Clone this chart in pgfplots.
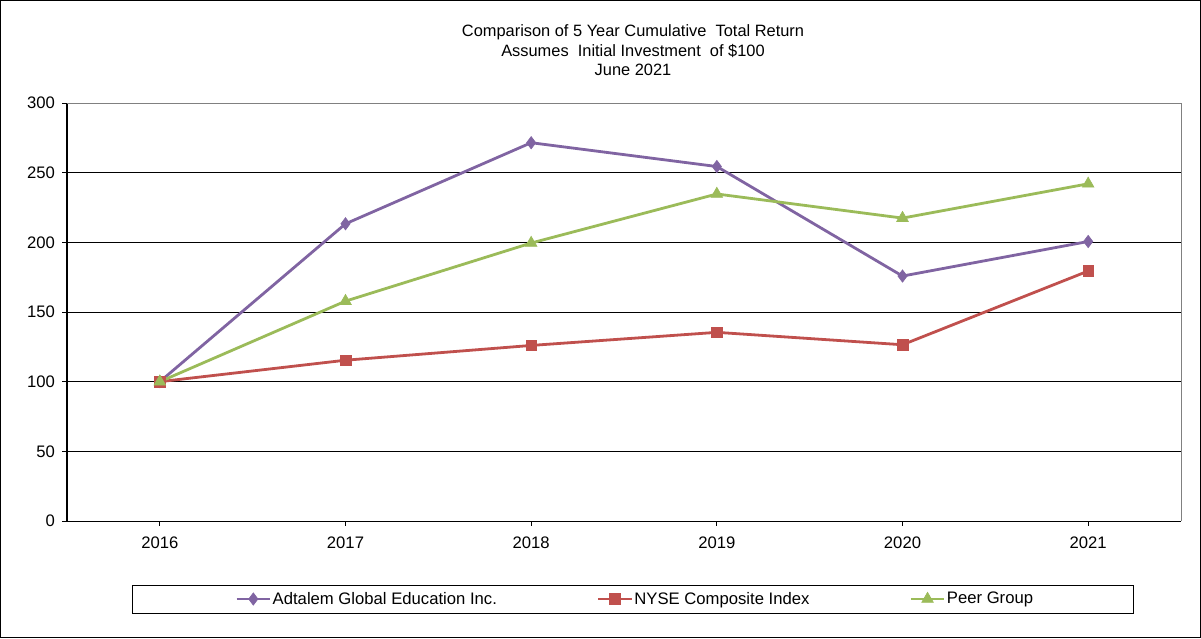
\documentclass[border=0pt]{standalone}
\usepackage{pgfplots}
\pgfplotsset{compat=1.18}
\usepackage{fontspec}
\setmainfont{Liberation Sans}
\definecolor{cPurple}{HTML}{8064A2}
\definecolor{cRed}{HTML}{C0504D}
\definecolor{cGreen}{HTML}{9BBB59}
\begin{document}
\begin{tikzpicture}
\useasboundingbox (0,0) rectangle (900.75pt,-478.5pt);
\draw[black,line width=0.75pt] (0.375pt,-0.375pt) rectangle (900.375pt,-478.125pt);
\node[align=center,font=\fontsize{12.3}{14.6}\selectfont,inner sep=0pt] at (474.75pt,-37.8pt)
  {Comparison of 5 Year Cumulative\ \ Total Return\\Assumes\ \ Initial Investment\ \ of \$100\\June 2021};
\draw[black,line width=0.75pt] (99pt,-438.75pt) rectangle (849.75pt,-459.75pt);
\begin{axis}[
  at={(50.25pt,-390.75pt)}, anchor=south west,
  scale only axis, width=835.5pt, height=313.5pt,
  xmin=-0.5, xmax=5.5, ymin=0, ymax=300,
  xtick={0,1,2,3,4,5},
  xticklabels={2016,2017,2018,2019,2020,2021},
  ytick={0,50,100,150,200,250,300},
  axis x line*=bottom, axis y line*=left,
  axis line style={black,line width=0.75pt,-},
  tick style={black,line width=0.75pt},
  tick align=outside, major tick length=3.5pt,
  ymajorgrids, grid style={black,line width=0.75pt},
  /pgf/number format/assume math mode=true,
  ticklabel style={font=\fontsize{12.5}{14}\selectfont},
  yticklabel style={xshift=-2pt},
  xticklabel style={yshift=-4.5pt},
  clip=false,
  legend columns=3,
  legend style={draw=none, fill=none, at={(0.1508,-0.1866)}, anchor=west,
    font=\fontsize{12.5}{14}\selectfont, inner sep=0pt,
    /tikz/every even column/.append style={column sep=74pt},
    nodes={inner xsep=1pt, inner ysep=1pt}},
  legend image code/.code={\draw[mark repeat=2,mark phase=2] plot coordinates {(0pt,0pt)(12.5pt,0pt)(25pt,0pt)};},
]
\addplot[cPurple, line width=2.1pt, mark=diamond*, mark size=4.6pt, mark options={solid,fill=cPurple,line width=0.5pt}]
  coordinates {(0,100) (1,213.3) (2,271.5) (3,254.4) (4,175.8) (5,200.6)};
\addlegendentry{Adtalem Global Education Inc.}
\addplot[cRed, line width=2.1pt, mark=square*, mark size=4pt, mark options={solid,fill=cRed,line width=0.5pt}]
  coordinates {(0,100) (1,115.4) (2,126) (3,135.4) (4,126.5) (5,179.4)};
\addlegendentry{NYSE Composite Index}
\addplot[cGreen, line width=2.1pt, mark=triangle*, mark size=5pt, mark options={solid,fill=cGreen,line width=0.5pt}]
  coordinates {(0,100) (1,157.8) (2,199.5) (3,234.7) (4,217.4) (5,242)};
\addlegendentry{Peer Group}
\draw[gray,line width=0.75pt] (rel axis cs:0,1) -- (rel axis cs:1,1) -- (rel axis cs:1,0);
\end{axis}
\end{tikzpicture}
\end{document}
